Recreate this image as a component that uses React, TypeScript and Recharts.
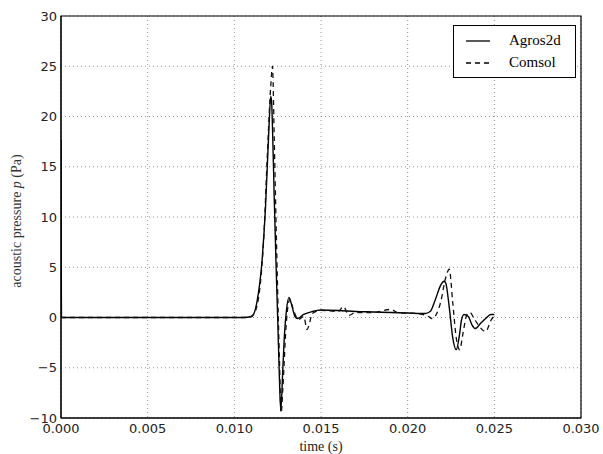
import React from 'react';
import { LineChart, Line, XAxis, YAxis, CartesianGrid, Legend, ReferenceArea } from 'recharts';

// ---- data ----
const seriesNames = ['Agros2d', 'Comsol'];

const agrosTime = [
  0, 0.00003, 0.0105, 0.0110, 0.0113, 0.0116, 0.0118, 0.0120, 0.0121, 0.01215, 0.0122, 0.0123, 0.0124,
  0.0125, 0.0126, 0.01268, 0.0128, 0.0129, 0.0130, 0.01315, 0.0133, 0.0135, 0.01365, 0.0140, 0.0145,
  0.0150, 0.0160, 0.0170, 0.0180, 0.0190, 0.0200, 0.0210, 0.0213, 0.0216, 0.0219, 0.0221, 0.0222,
  0.0224, 0.0226, 0.0228, 0.0230, 0.0231, 0.02325, 0.0235, 0.0237, 0.0239, 0.0242, 0.0245, 0.0248, 0.0250,
];
const agrosPressure = [
  17.7, 0, 0, 0.1, 1.5, 5.7, 11, 19, 22, 21.5, 19, 12, 5.7,
  0, -6, -9.3, -5, -1.5, 0.6, 2.0, 1.3, 0.1, -0.1, 0.3, 0.6,
  0.75, 0.7, 0.6, 0.55, 0.5, 0.45, 0.4, 0.6, 1.8, 3.2, 3.6, 3.4,
  1.0, -2, -3.2, -1.6, -0.3, 0.3, 0.1, -0.7, -1.1, -0.6, -0.1, 0.3, 0.3,
];

const comsolTime = [
  0, 0.0108, 0.0111, 0.0114, 0.0117, 0.0119, 0.0121, 0.0122, 0.0123, 0.0124, 0.0126, 0.0127, 0.0128,
  0.0130, 0.0132, 0.0134, 0.0137, 0.0140, 0.0142, 0.0143, 0.0145, 0.0150, 0.0160, 0.0163, 0.0166,
  0.0170, 0.0180, 0.0190, 0.0195, 0.0205, 0.0212, 0.0214, 0.0219, 0.0222, 0.0224, 0.0226, 0.0228,
  0.0230, 0.0232, 0.0234, 0.0236, 0.0238, 0.0241, 0.0245, 0.0248, 0.0250,
];
const comsolPressure = [
  0, 0, 0.3, 2, 8, 16, 23, 25, 18, 10, -4, -9.5, -7,
  -0.5, 1.8, 0.8, -0.2, 0.1, -1.2, -0.8, 0.4, 0.7, 0.6, 1.1, 0.2,
  0.5, 0.5, 0.8, 0.45, 0.4, 0.1, -0.1, 1.5, 4.0, 4.8, 1.5, -2,
  -3.2, -1.5, 0.2, 0.5, 0.0, -0.8, -1.4, -0.3, 0.2,
];

const timeTicks = [0, 0.005, 0.01, 0.015, 0.02, 0.025, 0.03];
const pressureTicks = [-10, -5, 0, 5, 10, 15, 20, 25, 30];

const agrosData = agrosTime.map((t, i) => ({ t, p: agrosPressure[i] }));
const comsolData = comsolTime.map((t, i) => ({ t, p: comsolPressure[i] }));

const tickFont = { fontFamily: 'DejaVu Sans', fontSize: 13, fill: '#222' };
const serif = 'Liberation Serif';

const fmtY = (v: number) => (v < 0 ? '\u2212' + Math.abs(v) : String(v));
const fmtX = (v: number) => v.toFixed(3);

const LegendBox = () => (
  <div
    style={{
      position: 'absolute',
      left: 453,
      top: 25,
      width: 121,
      height: 51,
      border: '1px solid #000',
      background: '#fff',
      fontFamily: serif,
      fontSize: 15,
      color: '#000',
    }}
  >
    {seriesNames.map((name, i) => (
      <div key={name} style={{ position: 'absolute', left: 0, top: 4 + i * 22, height: 20, width: 121 }}>
        <svg width={40} height={20} style={{ position: 'absolute', left: 0, top: 0 }}>
          <line
            x1={12}
            x2={36}
            y1={11}
            y2={11}
            stroke="#000"
            strokeWidth={1.3}
            strokeDasharray={i === 1 ? '5 4' : undefined}
          />
        </svg>
        <span style={{ position: 'absolute', left: 55, top: 1, lineHeight: '18px' }}>{name}</span>
      </div>
    ))}
  </div>
);

const YLabel = (props: any) => {
  const vb = props.viewBox || { x: 0, y: 16, width: 61, height: 402 };
  const cy = vb.y + vb.height / 2 + 4;
  const cx = 16;
  return (
    <text
      x={cx}
      y={cy}
      transform={`rotate(-90 ${cx} ${cy})`}
      textAnchor="middle"
      dominantBaseline="central"
      fontFamily={serif}
      fontSize={14}
      fill="#333"
    >
      acoustic pressure <tspan fontStyle="italic">p</tspan> (Pa)
    </text>
  );
};

export default function App() {
  return (
    <div style={{ position: 'absolute', left: 0, top: 0, width: 603, height: 454, background: '#fff' }}>
      <LineChart width={603} height={454} margin={{ top: 16, right: 22, left: 0, bottom: 0 }}>
        <CartesianGrid stroke="#777" strokeWidth={0.8} strokeDasharray="1 3" />
        <XAxis
          dataKey="t"
          type="number"
          domain={[0, 0.03]}
          ticks={timeTicks}
          tickFormatter={fmtX}
          allowDataOverflow
          height={36}
          tickSize={0}
          tickMargin={6}
          tickLine={false}
          axisLine={{ stroke: '#000' }}
          tick={tickFont}
          label={{ value: 'time (s)', position: 'insideBottom', offset: 3, style: { fontFamily: serif, fontSize: 14, fill: '#222' } }}
        />
        <YAxis
          type="number"
          domain={[-10, 30]}
          ticks={pressureTicks}
          tickFormatter={fmtY}
          allowDataOverflow
          width={61}
          tickSize={0}
          tickMargin={4}
          tickLine={false}
          axisLine={{ stroke: '#000' }}
          tick={tickFont}
          label={<YLabel />}
        />
        <ReferenceArea x1={0} x2={0.03} y1={-10} y2={30} fill="none" stroke="#000" strokeWidth={1.2} />
        <Line
          data={agrosData}
          dataKey="p"
          name={seriesNames[0]}
          type="monotone"
          stroke="#000"
          strokeWidth={1.4}
          dot={false}
          isAnimationActive={false}
        />
        <Line
          data={comsolData}
          dataKey="p"
          name={seriesNames[1]}
          type="monotone"
          stroke="#111"
          strokeWidth={1.3}
          strokeDasharray="5 4"
          dot={false}
          isAnimationActive={false}
        />
        <Legend
          layout="horizontal"
          verticalAlign="middle"
          align="center"
          wrapperStyle={{ position: 'absolute', left: 0, top: 0, width: 0, height: 0 }}
          content={() => <LegendBox />}
        />
      </LineChart>
    </div>
  );
}
